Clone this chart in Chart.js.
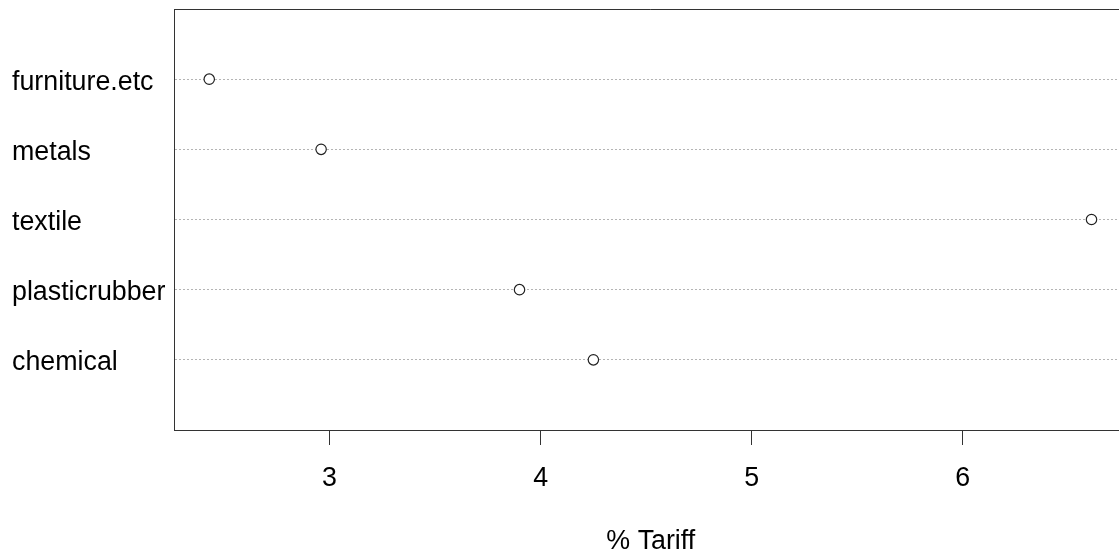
<!DOCTYPE html>
<html>
<head>
<meta charset="utf-8">
<title>% Tariff dot chart</title>
<script src="https://cdn.jsdelivr.net/npm/chart.js"></script>
<style>
    html, body {
        margin: 0;
        padding: 0;
        background: white;
        overflow: hidden;
    }
    #wrap {
        width: 1134px;
        height: 554px;
    }
</style>
</head>
<body>
<div id="wrap"><canvas id="dotChart" width="1134" height="554"></canvas></div>

<script>
    // data (bottom row first, as in R's dotchart)
    const categories = ['chemical', 'plasticrubber', 'textile', 'metals', 'furniture.etc'];
    const tariff = [4.25, 3.90, 6.61, 2.96, 2.43];
    const xTicks = [3, 4, 5, 6];
    const xLabel = '% Tariff';

    const FONT = 'Liberation Sans, Arial, sans-serif';
    const FSIZE = 26.8;

    // top border of the plot box
    const frameTop = {
        id: 'frameTop',
        afterDraw(chart) {
            const { ctx, chartArea } = chart;
            ctx.save();
            ctx.strokeStyle = '#333';
            ctx.lineWidth = 1;
            ctx.beginPath();
            ctx.moveTo(chartArea.left, chartArea.top + 0.5);
            ctx.lineTo(chartArea.right, chartArea.top + 0.5);
            ctx.stroke();
            ctx.restore();
        }
    };

    const points = categories.map((c, i) => ({ x: tariff[i], y: i + 1 }));

    const ctx = document.getElementById('dotChart').getContext('2d');
    const chart = new Chart(ctx, {
        type: 'scatter',
        data: {
            datasets: [{
                data: points,
                pointRadius: 5.2,
                pointBackgroundColor: 'white',
                pointBorderColor: '#222',
                pointBorderWidth: 1.2
            }]
        },
        options: {
            responsive: false,
            animation: false,
            layout: { padding: { left: 12, top: 9, right: 0, bottom: 0 } },
            plugins: {
                legend: { display: false },
                tooltip: { enabled: false }
            },
            scales: {
                x: {
                    type: 'linear',
                    min: 2.263,
                    max: 6.781,
                    afterBuildTicks: (scale) => {
                        scale.ticks = xTicks.map(v => ({ value: v }));
                    },
                    afterFit: (scale) => { scale.height = 124; },
                    border: { display: true, color: '#333', width: 1 },
                    grid: {
                        drawOnChartArea: false,
                        drawTicks: true,
                        tickLength: 15,
                        tickColor: '#333'
                    },
                    ticks: {
                        color: '#000',
                        padding: 18,
                        font: { family: FONT, size: FSIZE }
                    },
                    title: {
                        display: true,
                        text: xLabel,
                        color: '#000',
                        font: { family: FONT, size: FSIZE },
                        padding: { top: 0, bottom: -4 }
                    }
                },
                y: {
                    type: 'linear',
                    min: 0,
                    max: 6,
                    afterBuildTicks: (scale) => {
                        scale.ticks = categories.map((c, i) => ({ value: i + 1 }));
                    },
                    afterFit: (scale) => {
                        scale.width = 162;
                        scale.paddingTop = 0;
                        scale.paddingBottom = 0;
                    },
                    // dotted row guides like R's lty = "dotted"
                    border: { display: true, color: '#333', width: 1, dash: [2, 2] },
                    grid: {
                        drawTicks: false,
                        color: '#b4b4b4',
                        lineWidth: 1
                    },
                    ticks: {
                        color: '#000',
                        crossAlign: 'far',
                        padding: 0,
                        labelOffset: 3,
                        font: { family: FONT, size: FSIZE },
                        callback: (v) => categories[v - 1]
                    }
                }
            }
        },
        plugins: [frameTop]
    });
</script>
</body>
</html>
